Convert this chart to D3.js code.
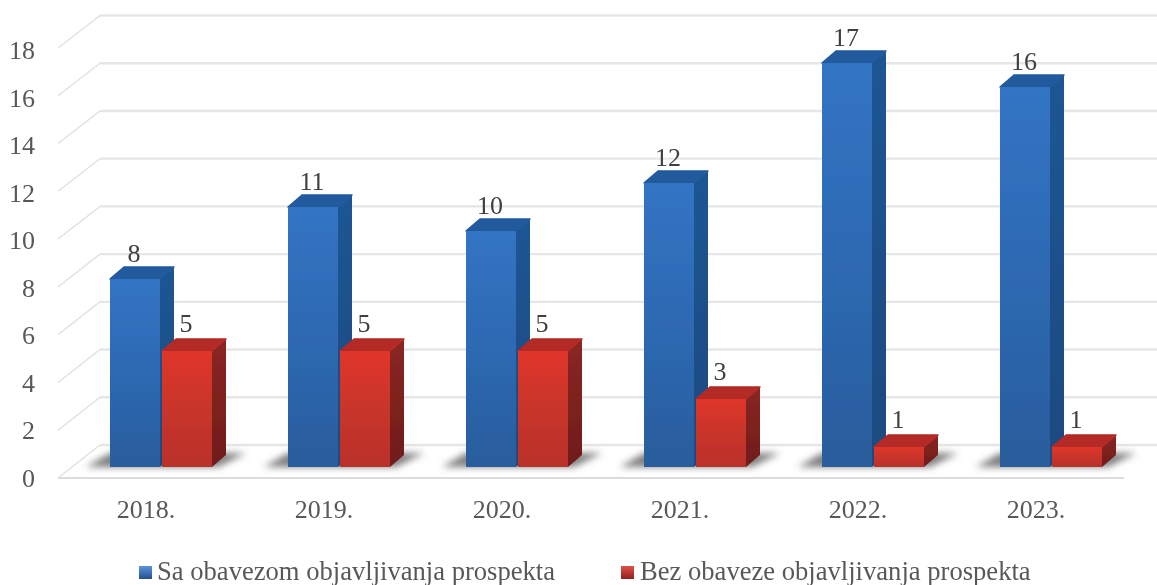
<!DOCTYPE html>
<html><head><meta charset="utf-8">
<script src="https://cdnjs.cloudflare.com/ajax/libs/d3/7.8.5/d3.min.js"></script>
<style>html,body{margin:0;padding:0;background:#fff}svg{display:block}</style>
</head><body><svg id="c" width="1157" height="585"></svg>
<script>
const categories = ["2018.","2019.","2020.","2021.","2022.","2023."];
const withProspectus = [8,11,10,12,17,16];
const withoutProspectus = [5,5,5,3,1,1];
const ticks = [0,2,4,6,8,10,12,14,16,18];
const legendLabels = ["Sa obavezom objavljivanja prospekta","Bez obaveze objavljivanja prospekta"];

const root = d3.select("#c");
const font = "'Liberation Serif','Times New Roman',serif";
const defs = root.append("defs");
function grad(id, stops){
  const g = defs.append("linearGradient").attr("id",id).attr("x1",0).attr("y1",0).attr("x2",0).attr("y2",1);
  stops.forEach(s=>g.append("stop").attr("offset",s[0]).attr("stop-color",s[1]));
}
grad("bf",[[0,"#3274c4"],[0.5,"#2d69b2"],[1,"#2a5d9c"]]);
grad("bs",[[0,"#1f5694"],[1,"#1b4a80"]]);
grad("rf",[[0,"#e0352b"],[0.5,"#c8352b"],[1,"#b9302a"]]);
grad("rs",[[0,"#8a2622"],[1,"#701c1b"]]);
grad("ls1",[[0,"#5a94dc"],[1,"#234f8c"]]);
grad("ls2",[[0,"#e0504a"],[1,"#8e2320"]]);
defs.append("filter").attr("id","blur").attr("x","-30%").attr("y","-80%").attr("width","160%").attr("height","260%")
  .append("feGaussianBlur").attr("stdDeviation",3.5);
defs.append("filter").attr("id","soft").attr("filterUnits","userSpaceOnUse")
  .attr("x",0).attr("y",0).attr("width",1157).attr("height",585)
  .append("feGaussianBlur").attr("stdDeviation",0.45);
const svg = root.append("g").attr("filter","url(#soft)");

const yBack = d3.scaleLinear().domain([0,18]).range([445,15.5]);
const yFront = d3.scaleLinear().domain([0,18]).range([478,48]);
const yTick = d3.scaleLinear().domain([0,18]).range([487,59]);
const yBar = d3.scaleLinear().domain([0,18]).range([471,39]);
const baseY = 467;
const xBand = d3.scaleBand().domain(categories).range([110,110+6*178]);
const barW = 50, gap = 2, dx = 14, dy = 12;
const wallX0 = 58, wallX1 = 100;

const grid = svg.append("g");
ticks.forEach(t=>{
  grid.append("line").attr("x1",wallX1).attr("x2",1157).attr("y1",yBack(t)).attr("y2",yBack(t))
    .attr("stroke","#e6e6e6").attr("stroke-width",2.4);
  grid.append("line").attr("x1",wallX0).attr("x2",wallX1).attr("y1",yFront(t)).attr("y2",yBack(t))
    .attr("stroke","#e2ded8").attr("stroke-width",1.3);
});
grid.append("line").attr("x1",wallX0).attr("x2",1124).attr("y1",yFront(0)).attr("y2",yFront(0))
  .attr("stroke","#dedcda").attr("stroke-width",1.8);

svg.append("g").selectAll("text").data(ticks).join("text")
  .attr("x",35).attr("y",d=>yTick(d)).attr("text-anchor","end")
  .attr("font-family",font).attr("font-size",26).attr("fill","#595959").text(d=>d);

const shadows = svg.append("g").attr("filter","url(#blur)");
categories.forEach(c=>{
  const x0 = xBand(c), x1 = x0 + 2*barW + gap, b = baseY;
  shadows.append("path").attr("d",`M${x0-24},${b} L${x1+6},${b} L${x1+34},${b-14} L${x0},${b-14} Z`)
    .attr("fill","#5e5e5e").attr("opacity",0.8);
});

function bar(x, v, f, s, top){
  const g = svg.append("g");
  const yT = yBar(v), yB = baseY, w = barW;
  g.append("path").attr("d",`M${x+w},${yT} L${x+w+dx},${yT-dy} L${x+w+dx},${yB-dy} L${x+w},${yB} Z`)
    .attr("fill",`url(#${s})`);
  g.append("path").attr("d",`M${x},${yT} L${x+dx},${yT-dy} L${x+w+dx},${yT-dy} L${x+w},${yT} Z`)
    .attr("fill",top).attr("stroke",top).attr("stroke-width",1.5).attr("stroke-linejoin","round");
  g.append("rect").attr("x",x).attr("y",yT).attr("width",w).attr("height",yB-yT).attr("fill",`url(#${f})`);
}
categories.forEach((c,i)=>{
  const x0 = xBand(c);
  bar(x0, withProspectus[i], "bf", "bs", "#245a9e");
  bar(x0+barW+gap, withoutProspectus[i], "rf", "rs", "#b32a25");
});

const lab = svg.append("g").attr("font-family",font).attr("font-size",26).attr("fill","#404040").attr("text-anchor","middle");
categories.forEach((c,i)=>{
  const x0 = xBand(c);
  lab.append("text").attr("x",x0+barW/2-1).attr("y",yBar(withProspectus[i])-17).text(withProspectus[i]);
  lab.append("text").attr("x",x0+barW+gap+barW/2-1).attr("y",yBar(withoutProspectus[i])-19).text(withoutProspectus[i]);
});

svg.append("g").selectAll("text").data(categories).join("text")
  .attr("x",d=>xBand(d)+36).attr("y",518).attr("text-anchor","middle")
  .attr("font-family",font).attr("font-size",26).attr("fill","#595959").text(d=>d);

const legendX = [139,621], legendFill = ["ls1","ls2"];
legendLabels.forEach((t,i)=>{
  svg.append("rect").attr("x",legendX[i]).attr("y",566).attr("width",13).attr("height",13).attr("fill",`url(#${legendFill[i]})`);
  svg.append("text").attr("x",legendX[i]+(i?19:18)).attr("y",580).attr("font-family",font).attr("font-size",26.6).attr("fill","#595959").text(t);
});
</script></body></html>
